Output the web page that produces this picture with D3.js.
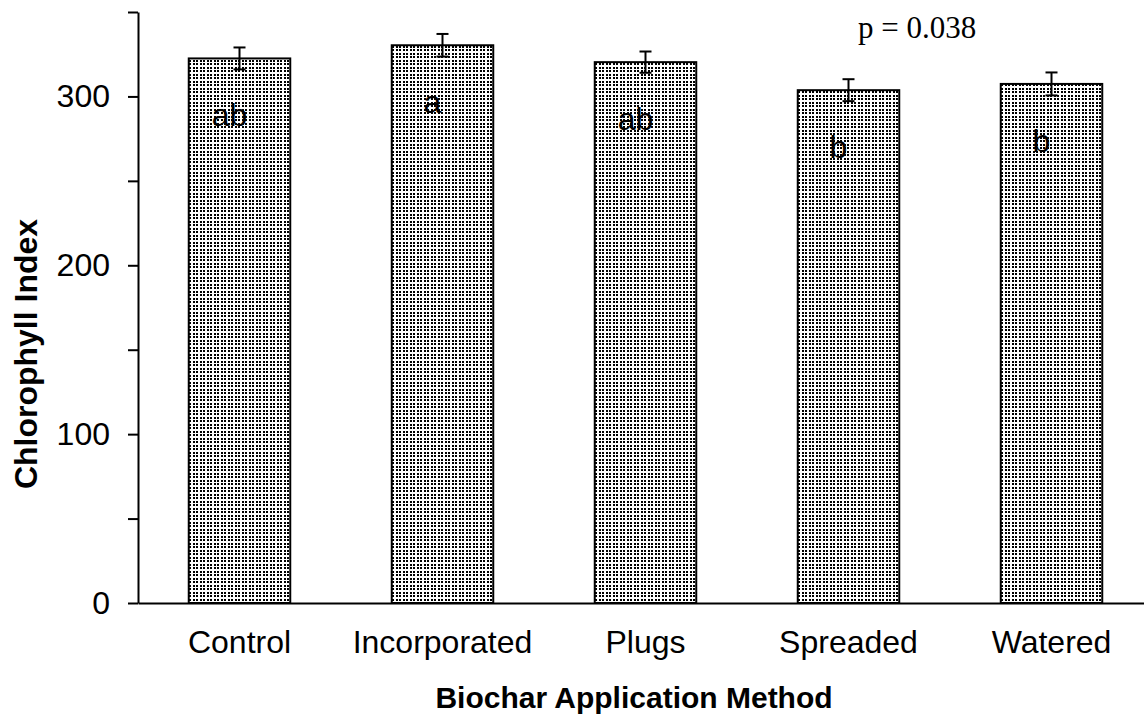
<!DOCTYPE html>
<html>
<head>
<meta charset="utf-8">
<script src="https://cdn.jsdelivr.net/npm/d3@7"></script>
<style>
  body { margin: 0; background: #fff; }
  svg { display: block; }
  .tick text { font-family: Arial, "Liberation Sans", sans-serif; }
</style>
</head>
<body>
<script>
'use strict';
let methods = ["Control", "Incorporated", "Plugs", "Spreaded", "Watered"];
let means = [322.5, 330.3, 320.3, 303.7, 307.4];
let errors = [6.5, 6.7, 6.3, 6.5, 6.8];
let letters = ["ab", "a", "ab", "b", "b"];
let yTicks = [0, 50, 100, 150, 200, 250, 300, 350];
let yLabels = [0, 100, 200, 300];
let pText = "p = 0.038";

(function () {
  let width = 1144, height = 715;
  let left = 138, right = 1153, top = 12, bottom = 603;
  let font = 'Arial, "Liberation Sans", sans-serif';

  let svg = d3.select('body').append('svg')
    .attr('width', width)
    .attr('height', height);

  // dotted fill like the old excel pattern
  let pat = svg.append('defs').append('pattern')
    .attr('id', 'dots')
    .attr('patternUnits', 'userSpaceOnUse')
    .attr('width', 7)
    .attr('height', 7);
  pat.append('rect').attr('width', 7).attr('height', 7).attr('fill', '#fff');
  [[0, 0], [4, 0], [0, 4], [4, 4]].forEach((p) => {
    pat.append('rect')
      .attr('x', p[0]).attr('y', p[1])
      .attr('width', 2).attr('height', 2)
      .attr('fill', '#000');
  });

  let xScale = d3.scaleBand()
    .domain(methods)
    .range([left, right])
    .paddingInner(0.5)
    .paddingOuter(0.25);

  let yScale = d3.scaleLinear()
    .domain([0, 350])
    .range([bottom, top]);

  let rows = methods.map((m, i) => ({ name: m, mean: means[i], err: errors[i], letter: letters[i] }));

  svg.selectAll('.bar')
    .data(rows)
    .enter()
    .append('rect')
    .attr('class', 'bar')
    .attr('x', (d) => xScale(d.name))
    .attr('y', (d) => yScale(d.mean))
    .attr('width', xScale.bandwidth())
    .attr('height', (d) => yScale(0) - yScale(d.mean))
    .attr('fill', 'url(#dots)')
    .attr('stroke', '#000')
    .attr('stroke-width', 2);

  // error bars
  let eb = svg.selectAll('.err')
    .data(rows)
    .enter()
    .append('g')
    .attr('class', 'err')
    .attr('stroke', '#000')
    .attr('stroke-width', 2);
  let cx = (d) => xScale(d.name) + xScale.bandwidth() / 2;
  eb.append('line')
    .attr('x1', cx).attr('x2', cx)
    .attr('y1', (d) => yScale(d.mean + d.err))
    .attr('y2', (d) => yScale(d.mean - d.err));
  eb.append('line')
    .attr('x1', (d) => cx(d) - 6).attr('x2', (d) => cx(d) + 6)
    .attr('y1', (d) => yScale(d.mean + d.err))
    .attr('y2', (d) => yScale(d.mean + d.err));
  eb.append('line')
    .attr('x1', (d) => cx(d) - 6).attr('x2', (d) => cx(d) + 6)
    .attr('y1', (d) => yScale(d.mean - d.err))
    .attr('y2', (d) => yScale(d.mean - d.err));

  // significance letters
  svg.selectAll('.letter')
    .data(rows)
    .enter()
    .append('text')
    .attr('class', 'letter')
    .attr('x', (d) => cx(d) - 10)
    .attr('y', (d) => yScale(d.mean) + 68)
    .attr('text-anchor', 'middle')
    .style('font-family', font)
    .style('font-size', '32px')
    .text((d) => d.letter);

  let yAxis = d3.axisLeft(yScale)
    .tickValues(yTicks)
    .tickFormat((d) => yLabels.includes(d) ? d : '')
    .tickSize(10)
    .tickSizeOuter(0)
    .tickPadding(18);
  let gy = svg.append('g')
    .attr('transform', 'translate(' + left + ', 0)')
    .call(yAxis);
  gy.selectAll('path, line').attr('stroke', '#000').attr('stroke-width', 2);
  gy.selectAll('text').style('font-size', '32px').attr('fill', '#000');

  let xAxis = d3.axisBottom(xScale)
    .tickSize(0)
    .tickSizeOuter(0)
    .tickPadding(27);
  let gx = svg.append('g')
    .attr('transform', 'translate(0, ' + bottom + ')')
    .call(xAxis);
  gx.selectAll('path').attr('stroke', '#000').attr('stroke-width', 2);
  gx.selectAll('text').style('font-size', '32px').attr('fill', '#000');

  svg.append('text')
    .attr('x', 634)
    .attr('y', 708)
    .attr('text-anchor', 'middle')
    .style('font-family', font)
    .style('font-weight', 'bold')
    .style('font-size', '30px')
    .text('Biochar Application Method');

  svg.append('text')
    .attr('transform', 'translate(37, 354)rotate(-90)')
    .attr('text-anchor', 'middle')
    .style('font-family', font)
    .style('font-weight', 'bold')
    .style('font-size', '32px')
    .text('Chlorophyll Index');

  svg.append('text')
    .attr('x', 858)
    .attr('y', 38)
    .style('font-family', '"Times New Roman", "Liberation Serif", serif')
    .style('font-size', '31px')
    .text(pText);
})();
</script>
</body>
</html>
